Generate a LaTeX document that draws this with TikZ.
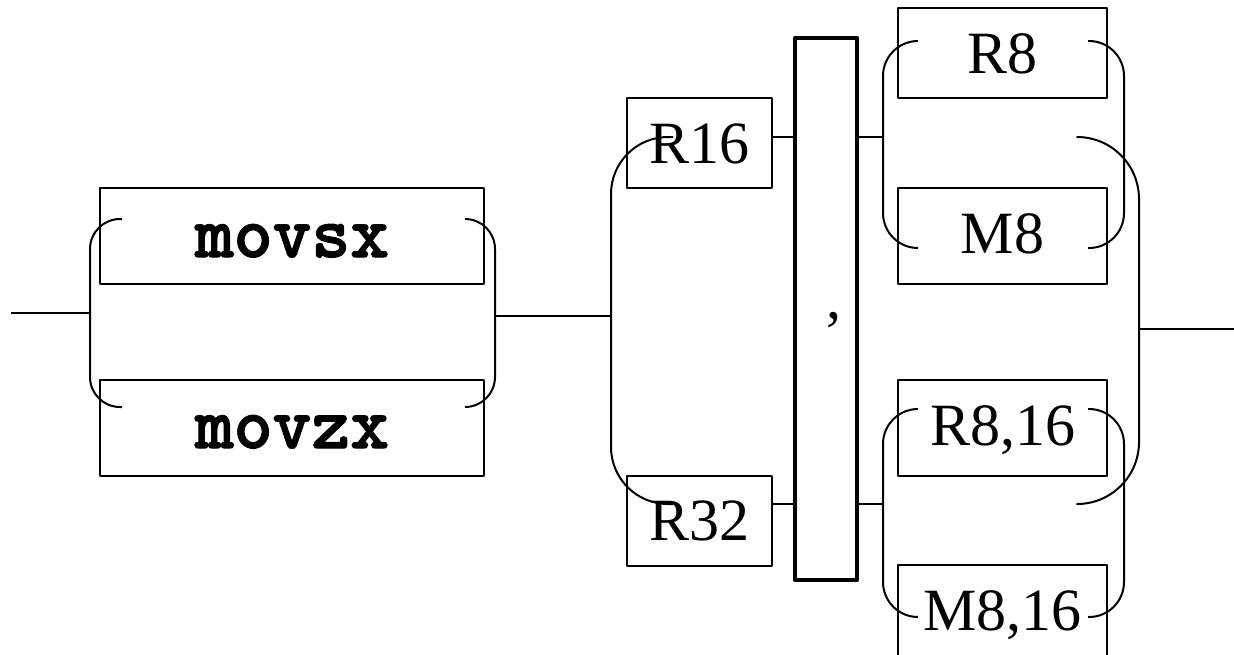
\documentclass[tikz,border=0pt]{standalone}
\usepackage{fontspec}
\setmainfont{Liberation Serif}
\newfontfamily\codefont{lmmonolt10-bold.otf}[FakeBold=1.6]
\begin{document}
\begin{tikzpicture}[x={(1pt,0)},y={(0,-1pt)},
  line join=round,
  wire/.style={line width=2pt},
  kbox/.style={draw,line width=2.8pt,inner sep=0pt,anchor=base,
    font=\fontsize{60}{60}\selectfont},
  codebox/.style={kbox,font=\codefont\fontsize{74}{74}\selectfont},
  sepbar/.style={draw,line width=4.5pt,inner sep=0pt,anchor=base,
    minimum width=62pt,text height=280pt,text depth=262pt,
    font=\fontsize{60}{60}\selectfont}]
\clip (0,0) rectangle (1234,654);
% boxes
\node[codebox,minimum width=384pt,text height=69pt,text depth=27pt] (movsx) at (292,257) {movsx};
\node[codebox,minimum width=384pt,text height=68pt,text depth=28pt] (movzx) at (292,448) {movzx};
\node[kbox,minimum width=145pt,text height=65pt,text depth=25pt] (R16) at (699.5,163) {R16};
\node[kbox,minimum width=145pt,text height=64pt,text depth=26pt] (R32) at (699.5,540) {R32};
\node[sepbar] (bar) at (826,318) {\hspace*{16pt},};
\node[kbox,minimum width=209pt,text height=65pt,text depth=25pt] (R8) at (1002.5,73) {R8};
\node[kbox,minimum width=209pt,text height=65pt,text depth=31pt] (M8) at (1002.5,253) {M8};
\node[kbox,minimum width=209pt,text height=65pt,text depth=31pt] (R816) at (1002.5,445) {R8,16};
\node[kbox,minimum width=209pt,text height=65pt,text depth=31pt] (M816) at (1002.5,630) {M8,16};
% junction coordinates
\coordinate (start) at (11,313);
\coordinate (j1) at (90,313);
\coordinate (j2) at (495,316);
\coordinate (j3) at (611,316);
\coordinate (rowA) at (0,137);
\coordinate (rowB) at (0,504);
\coordinate (j4) at (883,137);
\coordinate (j5) at (883,504);
\coordinate (j6) at (1139,329);
\coordinate (finish) at (1234,329);
% first choice
\draw[wire] (start) -- (j1);
\draw[wire,rounded corners=30pt] (122,219) -| (j1) |- (122,407);
\draw[wire,rounded corners=30pt] (465,219) -| (j2) |- (465,407);
\draw[wire] (j2) -- (j3);
% second choice
\draw[wire,rounded corners=57pt] (673,137) -| (j3) |- (673,504);
\draw[wire] (R16.east |- rowA) -- (bar.west |- rowA);
\draw[wire] (R32.east |- rowB) -- (bar.west |- rowB);
\draw[wire] (bar.east |- rowA) -- (j4);
\draw[wire] (bar.east |- rowB) -- (j5);
% third choices
\draw[wire,rounded corners=35pt] (918,41) -| (j4) |- (918,248);
\draw[wire,rounded corners=35pt] (1088,41) -| (1124,137) |- (1088,248);
\draw[wire,rounded corners=35pt] (918,409) -| (j5) |- (918,617);
\draw[wire,rounded corners=35pt] (1088,409) -| (1124,504) |- (1088,617);
% final merge
\draw[wire,rounded corners=62pt] (1078,137) -| (j6) |- (1078,504);
\draw[wire] (j6) -- (finish);
\end{tikzpicture}
\end{document}
